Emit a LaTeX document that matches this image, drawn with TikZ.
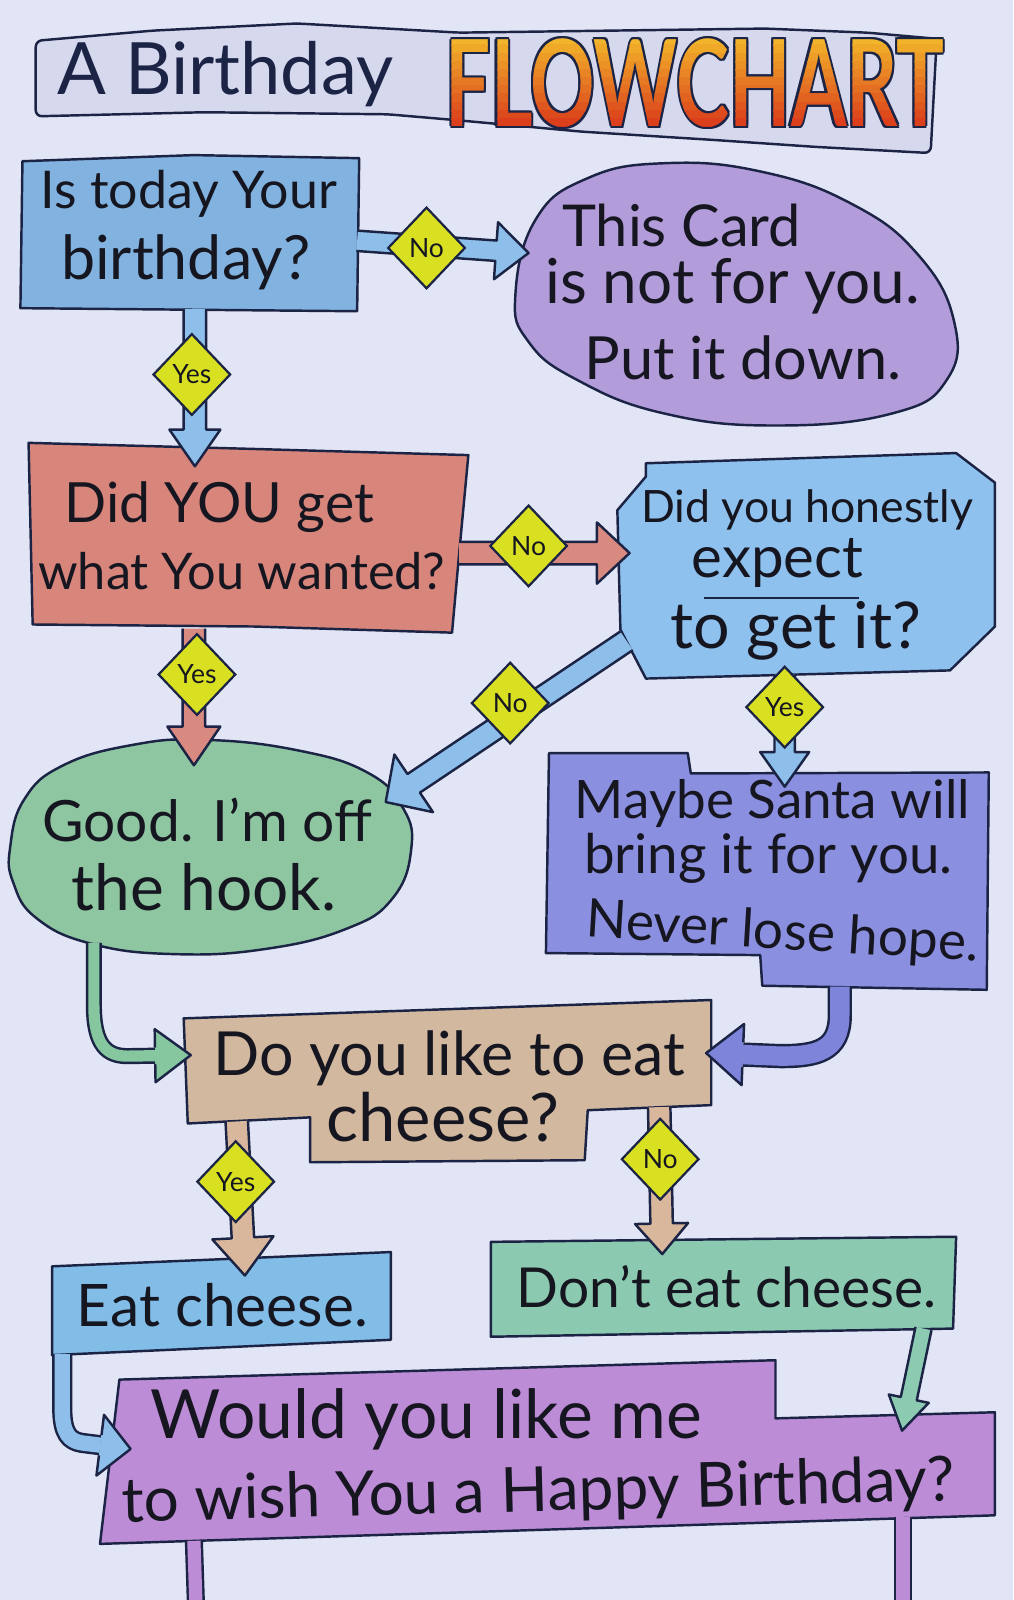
\documentclass[tikz,border=0pt]{standalone}
\usepackage{fontspec}
\setmainfont{Lato}
\usetikzlibrary{calc,shapes.geometric}
\definecolor{bg}{HTML}{E2E5F5}
\definecolor{ink}{HTML}{1C2446}
\definecolor{txtc}{HTML}{161620}
\definecolor{banner}{HTML}{D6D8EE}
\definecolor{box1}{HTML}{82B3E0}
\definecolor{oval}{HTML}{B29CD9}
\definecolor{box2}{HTML}{D8857C}
\definecolor{box3}{HTML}{8FC1EE}
\definecolor{blob}{HTML}{8EC6A1}
\definecolor{santa}{HTML}{8B8FDF}
\definecolor{cheese}{HTML}{D2B89F}
\definecolor{eat}{HTML}{82BDE8}
\definecolor{dont}{HTML}{8BCAB1}
\definecolor{final}{HTML}{BD8CD6}
\definecolor{yel}{HTML}{D9E021}
\definecolor{aBlue}{HTML}{8DBFEA}
\definecolor{aSalmon}{HTML}{D98A80}
\definecolor{aGreen}{HTML}{86C7A0}
\definecolor{aPeri}{HTML}{7D84D9}
\definecolor{aTan}{HTML}{D8B79C}
\definecolor{aTeal}{HTML}{8CCBB2}
\definecolor{fctop}{HTML}{F2B42A}
\definecolor{fcbot}{HTML}{D8321A}
% straight block arrow: start, tip, colour, half shaft, half head, head length
\newcommand\blockarrow[6]{%
  \coordinate (ab) at ($(#2)!#6!(#1)$);
  \filldraw[inkline, fill=#3] ($(#1)!#4!90:(#2)$) -- ($(ab)!#4!90:(#2)$) -- ($(ab)!#5!90:(#2)$) -- (#2)
     -- ($(ab)!#5!-90:(#2)$) -- ($(ab)!#4!-90:(#2)$) -- ($(#1)!#4!-90:(#2)$);}
% arrow head only: direction point, tip, colour, half shaft, half head, head length
\newcommand\arrowtip[6]{%
  \coordinate (ab) at ($(#2)!#6!(#1)$);
  \filldraw[inkline, fill=#3] ($(ab)!#4!90:(#2)$) -- ($(ab)!#5!90:(#2)$) -- (#2)
     -- ($(ab)!#5!-90:(#2)$) -- ($(ab)!#4!-90:(#2)$);}
\newcommand\flowword{\resizebox{488pt}{86pt}{\bfseries FLOWCHART}}
\begin{document}
\begin{tikzpicture}[x=1pt,y=-1pt,
  inkline/.style={draw=ink, line width=2.4pt, line join=round},
  txt/.style={anchor=base, inner sep=0pt, outer sep=0pt, text=txtc},
  dia/.style={diamond, draw=ink, line width=2.2pt, fill=yel, minimum width=76pt, minimum height=80pt, inner sep=0pt, text=txtc, font=\fontsize{26}{26}\selectfont},
  shaft/.style 2 args={draw=ink, line width=2.4pt, line join=round, double=#1, double distance=#2}]
\useasboundingbox (0,0) rectangle (993,1568);
\fill[bg] (0,0) rectangle (993,1568);

% ---------- title banner
\filldraw[inkline, fill=banner, rounded corners=6pt] (35,40) -- (150,30) -- (291,23) -- (450,32) -- (600,30) -- (750,28) -- (850,32) -- (918,38) -- (912,150) -- (800,144) -- (697,137) -- (570,129) -- (450,118) -- (380,112) -- (200,110) -- (35,114) -- cycle;
\node[txt, text=ink] (title1) at (221,93) {\resizebox{329pt}{!}{A Birthday}};
\foreach \dx/\dy [count=\k] in {-2/0,2/0,0/-2,0/2,-1.5/-1.5,1.5/1.5,-1.5/1.5,1.5/-1.5}
  \node[txt, text=ink] (fcs\k) at (681+\dx,124+\dy) {\flowword};
\foreach \i in {0,...,11}{
  \pgfmathtruncatemacro\p{\i*100/11}
  \begin{scope}
    \clip (420,{36+\i*8}) rectangle (945,{44.8+\i*8});
    \node[txt, text=fcbot!\p!fctop] (fc\i) at (681,124) {\flowword};
  \end{scope}
}

% ---------- boxes
\filldraw[inkline, fill=box1] (22,158) -- (190,152) -- (352,155) -- (350,305) -- (20,302) -- cycle;
\filldraw[inkline, fill=oval] plot[smooth cycle, tension=0.75] coordinates {(505,290) (525,215) (575,175) (650,160) (745,168) (835,200) (900,250) (935,315) (928,372) (875,405) (760,417) (650,405) (565,372) (518,335)};
\filldraw[inkline, fill=box2] (28,434) -- (250,440) -- (459,446) -- (450,542) -- (443,620) -- (250,614) -- (32,612) -- cycle;
\filldraw[inkline, fill=box3] (605,500) -- (633,467) -- (633,454) -- (937,444) -- (975,473) -- (975,614) -- (931,657) -- (633,665) -- (608,617) -- cycle;
\filldraw[inkline, fill=blob] plot[smooth cycle, tension=0.75] coordinates {(10,830) (24,783) (62,750) (130,730) (200,725) (290,735) (360,757) (395,792) (403,832) (385,880) (340,910) (260,930) (170,935) (90,925) (36,900) (13,865)};
\filldraw[inkline, fill=santa] (538,738) -- (674,738) -- (677,758) -- (969,757) -- (967,970) -- (747,966) -- (745,936) -- (535,934) -- cycle;
\filldraw[inkline, fill=cheese] (180,998) -- (697,980) -- (697,1083) -- (576,1088) -- (573,1137) -- (304,1139) -- (304,1095) -- (184,1101) -- cycle;
\filldraw[inkline, fill=eat] (51,1241) -- (383,1227) -- (383,1313) -- (51,1328) -- cycle;
\filldraw[inkline, fill=dont] (481,1217) -- (937,1212) -- (934,1302) -- (481,1310) -- cycle;
\filldraw[inkline, fill=final] (117,1352) -- (760,1333) -- (760,1390) -- (975,1384) -- (975,1485) -- (98,1513) -- cycle;

% ---------- connector end points
\coordinate (a1s) at (350,236);  \coordinate (a1e) at (518,248);
\coordinate (a2s) at (191,303);  \coordinate (a2e) at (191,457);
\coordinate (a3s) at (450,542);  \coordinate (a3e) at (617,542);
\coordinate (a4s) at (190,616);  \coordinate (a4e) at (190,750);
\coordinate (a5s) at (614,628);  \coordinate (a5e) at (378,786);
\coordinate (a6s) at (769,661);  \coordinate (a6e) at (769,771);
\coordinate (a7s) at (92,924);   \coordinate (a7p) at (125,1035); \coordinate (a7e) at (187,1034);
\coordinate (a8s) at (823,967);  \coordinate (a8p) at (765,1035); \coordinate (a8e) at (692,1032);
\coordinate (a9s) at (232,1099); \coordinate (a9e) at (240,1250);
\coordinate (a10s) at (646,1085); \coordinate (a10e) at (649,1229);
\coordinate (a11s) at (61,1327); \coordinate (a11p) at (80,1414); \coordinate (a11e) at (128,1420);
\coordinate (a12s) at (905,1302); \coordinate (a12e) at (884,1402);
\coordinate (st1s) at (190,1510); \coordinate (st1e) at (192,1572);
\coordinate (st2s) at (885,1487); \coordinate (st2e) at (885,1572);

% ---------- connectors
\blockarrow{a1s}{a1e}{aBlue}{10pt}{28pt}{32pt}
\blockarrow{a2s}{a2e}{aBlue}{11pt}{25pt}{36pt}
\blockarrow{a3s}{a3e}{aSalmon}{11pt}{30pt}{32pt}
\blockarrow{a4s}{a4e}{aSalmon}{11pt}{26pt}{38pt}
\blockarrow{a5s}{a5e}{aBlue}{11pt}{34pt}{33pt}
\blockarrow{a6s}{a6e}{aBlue}{10pt}{24pt}{34pt}
\draw[shaft={aGreen}{11pt}] (a7s) -- (92,985) .. controls (92,1025) and (105,1035) .. (a7p) -- ($(a7e)!35pt!(a7p)$);
\arrowtip{a7p}{a7e}{aGreen}{8pt}{26pt}{35pt}
\draw[shaft={aPeri}{19pt}] (a8s) -- (823,995) .. controls (823,1030) and (800,1035) .. (a8p) -- ($(a8e)!36pt!(a8p)$);
\arrowtip{a8p}{a8e}{aPeri}{12pt}{30pt}{36pt}
\blockarrow{a9s}{a9e}{aTan}{11pt}{30pt}{37pt}
\blockarrow{a10s}{a10e}{aTan}{11pt}{26pt}{30pt}
\draw[shaft={aBlue}{15pt}] (a11s) -- (61,1380) .. controls (61,1405) and (68,1412) .. (a11p) -- ($(a11e)!30pt!(a11p)$);
\arrowtip{a11p}{a11e}{aBlue}{10pt}{30pt}{30pt}
\blockarrow{a12s}{a12e}{aTeal}{8pt}{20pt}{32pt}
\draw[shaft={final}{13pt}] (st1s) -- (st1e);
\draw[shaft={final}{13pt}] (st2s) -- (st2e);

% ---------- decision diamonds
\node[dia] (d1) at (418,243) {No};
\node[dia] (d2) at (188,367) {Yes};
\node[dia] (d3) at (518,535) {No};
\node[dia] (d4) at (193,661) {Yes};
\node[dia] (d5) at (500,689) {No};
\node[dia] (d6) at (769,693) {Yes};
\node[dia] (d7) at (231,1158) {Yes};
\node[dia] (d8) at (647,1136) {No};

% ---------- texts
\node[txt] (t1a) at (185,204) {\resizebox{290pt}{!}{Is today Your}};
\node[txt] (t1b) at (182,274) {\resizebox{244pt}{!}{birthday?}};
\node[txt] (t2a) at (668,242) {\resizebox{234pt}{!}{This Card}};
\node[txt] (t2b) at (718,297) {\resizebox{367pt}{!}{is not for you.}};
\node[txt] (t2c) at (728,372) {\resizebox{310pt}{!}{Put it down.}};
\node[txt] (t3a) at (215,512) {\resizebox{303pt}{!}{Did YOU get}};
\node[txt] (t3b) at (237,578) {\resizebox{399pt}{!}{what You wanted?}};
\node[txt] (t4a) at (791,512) {\resizebox{325pt}{!}{Did you honestly}};
\node[txt] (t4b) at (762,566) {\resizebox{168pt}{!}{expect}};
\draw[inkline] (690,586) -- (842,586);
\node[txt] (t4c) at (780,636) {\resizebox{245pt}{!}{to get it?}};
\node[txt] (t5a) at (203,825) {\resizebox{323pt}{!}{Good. I’m off}};
\node[txt] (t5b) at (200,892) {\resizebox{259pt}{!}{the hook.}};
\node[txt] (t6a) at (757,802) {\resizebox{387pt}{!}{Maybe Santa will}};
\node[txt] (t6b) at (753,856) {\resizebox{361pt}{!}{bring it for you.}};
\node[txt, rotate=-3.5] (t6c) at (766,930) {\resizebox{385pt}{!}{Never lose hope.}};
\node[txt] (t7a) at (440,1054) {\resizebox{462pt}{!}{Do you like to eat}};
\node[txt] (t7b) at (434,1119) {\resizebox{228pt}{!}{cheese?}};
\node[txt] (t8) at (218,1300) {\resizebox{285pt}{!}{Eat cheese.}};
\node[txt] (t9) at (712,1281) {\resizebox{411pt}{!}{Don’t eat cheese.}};
\node[txt] (t10a) at (418,1410) {\resizebox{540pt}{!}{Would you like me}};
\node[txt, rotate=1.5] (t10b) at (528,1481) {\resizebox{817pt}{!}{to wish You a Happy Birthday?}};
\end{tikzpicture}
\end{document}
